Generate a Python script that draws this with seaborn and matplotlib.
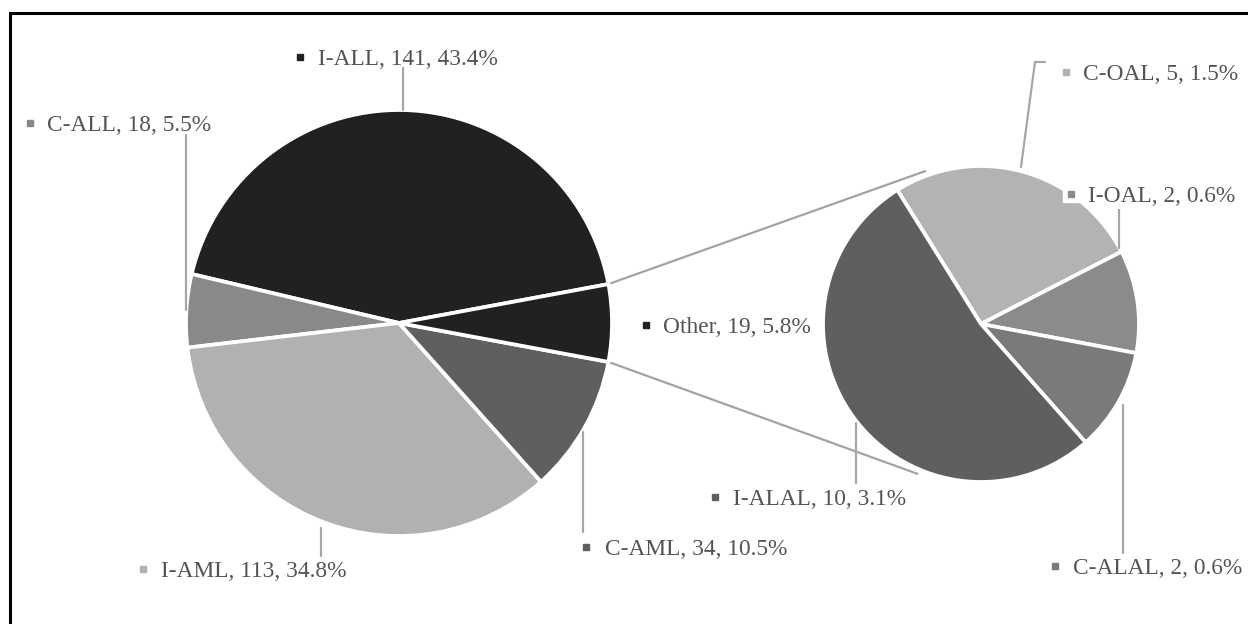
import numpy as np
import matplotlib.pyplot as plt
from matplotlib.patches import Rectangle
import seaborn as sns

# main pie (counter-clockwise order starting at the top edge of "Other")
main_names = ['I-ALL', 'C-ALL', 'I-AML', 'C-AML', 'Other']
main_counts = [141, 18, 113, 34, 19]
main_colors = ['#212121', '#898989', '#b1b1b1', '#5f5f5f', '#212121']

# secondary pie: breakdown of "Other" (clockwise order)
sub_names = ['C-OAL', 'I-OAL', 'C-ALAL', 'I-ALAL']
sub_counts = [5, 2, 2, 10]
sub_colors = ['#b3b3b3', '#8b8b8b', '#7a7a7a', '#5f5f5f']

total = sum(main_counts)

sns.set_theme(style='white')
plt.rcParams['font.family'] = ['Liberation Serif', 'DejaVu Serif']

W, H = 1248, 624
fig = plt.figure(figsize=(W / 100, H / 100), dpi=100)
ax = fig.add_axes([0, 0, 1, 1])


def px(x, y):
    # image pixel coords (y down) -> axes data coords (y up)
    return x, H - y


c1, r1 = px(399, 323), 213
c2, r2 = px(981, 324), 158
edge = dict(edgecolor='white', linewidth=2.7)

start1 = 180 * main_counts[-1] / total
ax.pie(main_counts, colors=main_colors, center=c1, radius=r1,
       startangle=start1, counterclock=True, wedgeprops=edge)
ax.pie(sub_counts, colors=sub_colors, center=c2, radius=r2,
       startangle=122, counterclock=False, wedgeprops=edge)

# connector lines between "Other" and the secondary pie
line_col = '#a3a3a3'
for a_main, a_sub in [(start1, 110), (-start1, 247)]:
    p0 = (c1[0] + r1 * np.cos(np.radians(a_main)), c1[1] + r1 * np.sin(np.radians(a_main)))
    p1 = (c2[0] + 1.03 * r2 * np.cos(np.radians(a_sub)), c2[1] + 1.03 * r2 * np.sin(np.radians(a_sub)))
    ax.plot([p0[0], p1[0]], [p0[1], p1[1]], color=line_col, lw=1.6, zorder=0.5)

# label layout: marker x, text x, cap-centre y (image pixels)
label_pos = {
    'I-ALL': (300, 318, 57),
    'C-ALL': (30, 47, 123),
    'I-AML': (143, 161, 569),
    'C-AML': (586, 605, 547),
    'Other': (646, 663, 325),
    'C-OAL': (1066, 1083, 72),
    'I-OAL': (1071, 1088, 194),
    'I-ALAL': (715, 733, 497),
    'C-ALAL': (1055, 1073, 566),
}
leaders = {
    'I-ALL': [(403, 68), (403, 110)],
    'C-ALL': [(186, 135), (186, 310)],
    'I-AML': [(321, 528), (321, 556)],
    'C-AML': [(583, 432), (583, 532)],
    'C-OAL': [(1021, 167), (1035, 62), (1045, 62)],
    'I-OAL': [(1119, 205), (1119, 248)],
    'I-ALAL': [(856, 423), (856, 483)],
    'C-ALAL': [(1123, 405), (1123, 553)],
}

for name, pts in leaders.items():
    xs, ys = zip(*[px(x, y) for x, y in pts])
    ax.plot(xs, ys, color='#a6a6a6', lw=1.6, zorder=3)

names = main_names + sub_names
counts = main_counts + sub_counts
colors = main_colors + sub_colors
for name, n, col in zip(names, counts, colors):
    mx, tx, cy = label_pos[name]
    label = f'{name}, {n}, {n / total * 100:.1f}%'
    box = None
    if name == 'I-OAL':
        box = dict(facecolor='white', edgecolor='none', pad=1.5)
        ax.plot(*px(mx, cy), 's', ms=11, color='white', zorder=4)
    ax.plot(*px(mx, cy), 's', ms=5, color=col, zorder=5)
    ax.text(tx, H - (cy + 8), label, fontsize=16.8, color='#545454',
            ha='left', va='baseline', bbox=box, zorder=5)

# chart frame (only left and top edges are visible)
ax.add_patch(Rectangle(px(10, 700), 1400, 687, fill=False,
                       edgecolor='black', lw=2.2, zorder=6))

ax.set_xlim(0, W)
ax.set_ylim(0, H)
ax.axis('off')
fig.savefig('out.png', dpi=100)
